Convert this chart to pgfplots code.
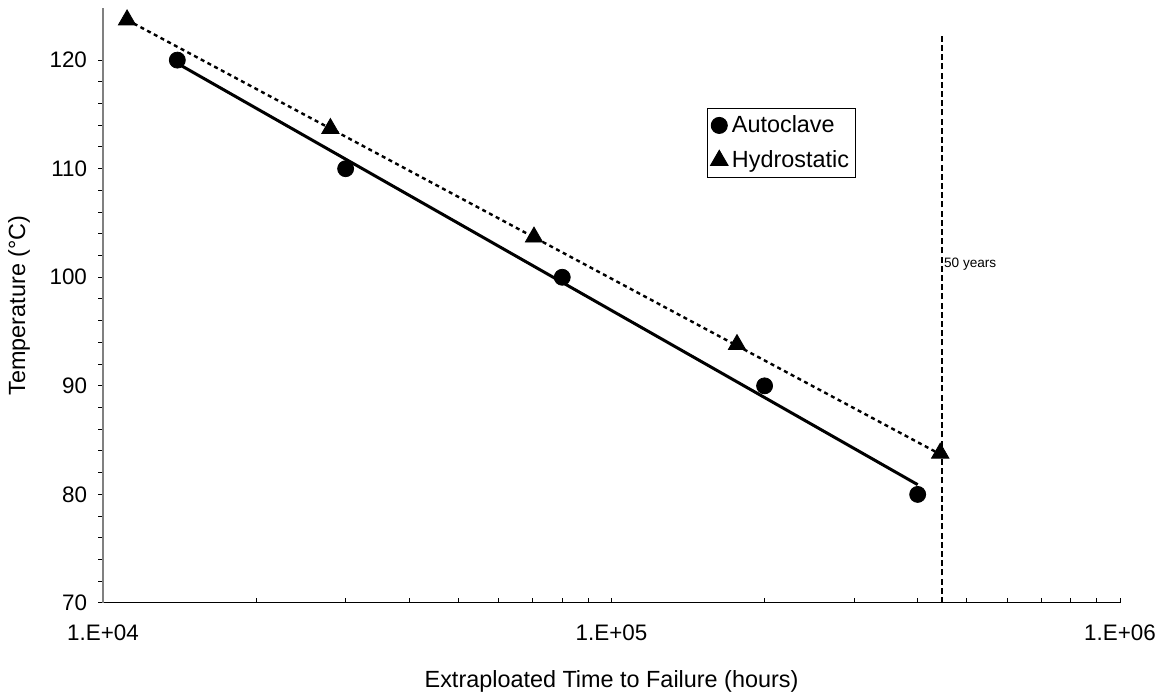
\documentclass[border=0pt]{standalone}
\usepackage{pgfplots}
\pgfplotsset{compat=1.18}
\usepackage{fontspec}
\setmainfont{Liberation Sans}
\begin{document}
\begin{tikzpicture}
\useasboundingbox (-51.5pt,-46pt) rectangle (532.5pt,301.5pt);
\begin{axis}[
  at={(0,0)}, anchor=south west,
  scale only axis, width=508.5pt, height=297.5pt,
  xmode=log, xmin=1e4, xmax=1e6,
  ymin=70, ymax=124.8,
  axis x line*=bottom, axis y line*=left,
  x axis line style={black, line width=0.5pt},
  y axis line style={gray, line width=0.6pt},
  xtick={1e4,1e5,1e6},
  xticklabels={1.E+04,1.E+05,1.E+06},
  ytick={70,80,90,100,110,120},
  minor y tick num=4,
  x tick label style={yshift=-7.5pt},
  y tick label style={xshift=-2pt},
  xtick align=inside, ytick align=outside,
  major tick length=2.5pt, minor tick length=2.5pt,
  tick style={black, line width=0.5pt},
  /pgf/number format/assume math mode=true,
  tick label style={font=\fontsize{11.2}{13}\selectfont},
  label style={font=\fontsize{11.7}{14}\selectfont},
  xlabel={Extraploated Time to Failure (hours)},
  ylabel={Temperature (°C)},
  xlabel style={at={(0.5,0)}, anchor=north, yshift=-30pt},
  ylabel style={at={(0,0.5)}, anchor=south, xshift=0pt, yshift=33pt},
  legend style={at={(0.594,0.832)}, anchor=north west, draw=black, line width=0.5pt,
    font=\fontsize{11.7}{14}\selectfont, inner sep=1.5pt, row sep=3.5pt,
    legend cell align=left},
  legend image code/.code={\draw[#1] plot coordinates {(0.15cm,0cm)};},
  clip=false,
]
% trend lines
\addplot[black, line width=1.5pt, forget plot] coordinates {(14000,119.7) (400000,80.9)};
\addplot[black, line width=1.2pt, dash pattern=on 2pt off 1.8pt, forget plot] coordinates {(11150,123.7) (443000,83.7)};
% 50 years line
\addplot[black, line width=1pt, dash pattern=on 3pt off 1.6pt, forget plot] coordinates {(446000,70) (446000,122.4)};
\node[anchor=west, inner sep=1pt, font=\fontsize{6.8}{8}\selectfont] at (axis cs:446000,101.2) {50 years};
% data
\addplot[only marks, mark=*, mark size=4pt, black] coordinates {
(14000,120) (30000,110) (80000,100) (200000,90) (400000,80)};
\addlegendentry{Autoclave}
\addplot[only marks, mark=triangle*, mark size=5pt, black] coordinates {
(11150,123.7) (28000,113.7) (70400,103.7) (176500,93.8) (443000,83.8)};
\addlegendentry{Hydrostatic}
\end{axis}
\end{tikzpicture}
\end{document}
